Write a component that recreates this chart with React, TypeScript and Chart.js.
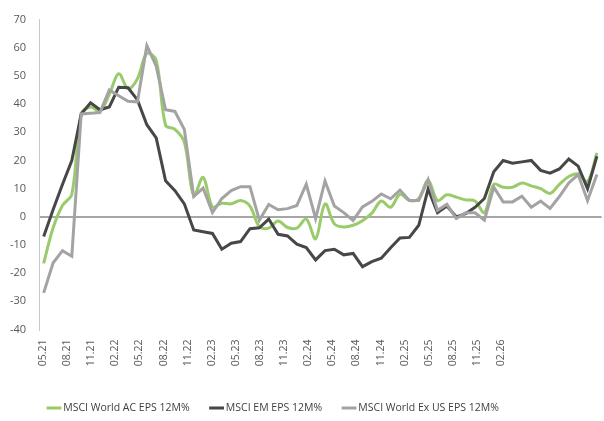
import React, { useEffect, useRef } from 'react';
import { Chart, registerables } from 'chart.js';

Chart.register(...registerables);

// Monthly observation dates of the series (hidden data axis)
const months = [
  '05.21', '06.21', '07.21', '08.21', '09.21', '10.21', '11.21', '12.21',
  '01.22', '02.22', '03.22', '04.22', '05.22', '06.22', '07.22', '08.22', '09.22', '10.22', '11.22', '12.22',
  '01.23', '02.23', '03.23', '04.23', '05.23', '06.23', '07.23', '08.23', '09.23', '10.23', '11.23', '12.23',
  '01.24', '02.24', '03.24', '04.24', '05.24', '06.24', '07.24', '08.24', '09.24', '10.24', '11.24', '12.24',
  '01.25', '02.25', '03.25', '04.25', '05.25', '06.25', '07.25', '08.25', '09.25', '10.25', '11.25', '12.25',
  '01.26', '02.26', '03.26', '04.26',
];

// Tick labels shown on the category axis
const tickLabels = [
  '05.21', '08.21', '11.21', '02.22', '05.22', '08.22', '11.22', '02.23', '05.23', '08.23',
  '11.23', '02.24', '05.24', '08.24', '11.24', '02.25', '05.25', '08.25', '11.25', '02.26',
];
const LABEL_SLOTS = 70;

const worldAC = [
  -16.5, -4, 4, 8, 36.5, 39, 37.5, 43.5, 50.8, 45.5,
  49, 58, 55.5, 32.5, 31, 26.5, 7.5, 14, 3.5, 4.8,
  4.6, 5.8, 3.8, -3.5, -4, -1.5, -3.8, -4, -0.8, -7.8,
  4.6, -2.5, -3.6, -3, -1.4, 1.3, 5.6, 3.4, 8, 5.8,
  6.5, 13, 5.8, 7.8, 7, 6, 5.6, 1.5, 11.5, 10.5,
  10.5, 12, 11, 10, 8.3, 11.5, 14.3, 15.2, 12.5, 22.7,
];

const em = [
  -7, 2.5, 11.5, 20, 36.5, 40.5, 38, 39, 46, 45.8,
  41.5, 32.7, 28, 12.8, 9.3, 4.6, -4.7, -5.3, -5.9, -11.5,
  -9.4, -8.8, -4.2, -3.9, -0.8, -6.2, -6.8, -9.7, -10.9, -15.3,
  -12, -11.5, -13.5, -13, -17.7, -15.9, -14.7, -11, -7.5, -7.3,
  -3, 9.9, 1.5, 3.8, 0, 1.1, 3.4, 6.5, 16, 20,
  19, 19.5, 20, 16.5, 15.5, 17, 20.5, 18, 10, 21.5,
];

const worldExUS = [
  -27, -16.4, -12, -14, 36.5, 36.8, 37, 45, 43, 41,
  40.8, 60.8, 53.5, 38, 37.4, 31, 7.2, 10.2, 1.5, 6.5,
  9.3, 10.7, 10.7, -1.2, 4.4, 2.5, 2.9, 4, 11.6, -0.6,
  12.7, 3.8, 1.5, -1.3, 3.5, 5.5, 8.1, 6.4, 9.5, 5.8,
  5.8, 13.2, 2.3, 4.4, -0.6, 1.4, 1.4, -1.2, 10.5, 5.3,
  5.3, 7.3, 3.4, 5.6, 3, 7.2, 12, 15, 5.8, 15,
];

const FONT = "'Open Sans', 'Noto Sans', sans-serif";
const LEGEND_SHIFT = 27;

const legendShift = {
  id: 'legendShift',
  afterLayout(chart: any) {
    const lg = chart.legend;
    if (lg) {
      lg.left += LEGEND_SHIFT;
      lg.right += LEGEND_SHIFT;
    }
  },
};

export default function App() {
  const ref = useRef<HTMLCanvasElement>(null);

  useEffect(() => {
    if (!ref.current) return;
    const slots: string[] = [];
    for (let i = 0; i < LABEL_SLOTS; i++) {
      slots.push(i % 3 === 0 && i / 3 < tickLabels.length ? tickLabels[i / 3] : '');
    }
    const chart = new Chart(ref.current, {
      type: 'line',
      data: {
        labels: months,
        datasets: [
          {
            label: 'MSCI World AC EPS 12M%',
            data: worldAC,
            borderColor: '#9acb6b',
            backgroundColor: '#9acb6b',
            borderWidth: 3,
            tension: 0.35,
            pointRadius: 0,
            pointStyle: 'line',
            xAxisID: 'x',
            order: 3,
          },
          {
            label: 'MSCI EM EPS 12M%',
            data: em,
            borderColor: '#474747',
            backgroundColor: '#474747',
            borderWidth: 3,
            tension: 0,
            pointRadius: 0,
            pointStyle: 'line',
            xAxisID: 'x',
            order: 2,
          },
          {
            label: 'MSCI World Ex US EPS 12M%',
            data: worldExUS,
            borderColor: '#a3a3a3',
            backgroundColor: '#a3a3a3',
            borderWidth: 3,
            tension: 0,
            pointRadius: 0,
            pointStyle: 'line',
            xAxisID: 'x',
            order: 1,
          },
        ],
      },
      plugins: [legendShift],
      options: {
        animation: false,
        responsive: false,
        maintainAspectRatio: false,
        layout: { padding: { left: 0, top: 19, right: 2.4, bottom: -2.25 } },
        plugins: {
          tooltip: { enabled: false },
          legend: {
            position: 'bottom',
            align: 'start',
            labels: {
              usePointStyle: true,
              boxWidth: 8,
              boxHeight: 12,
              padding: 23,
              color: '#404040',
              font: { family: FONT, size: 10.5 },
              sort: (a: any, b: any) => a.datasetIndex - b.datasetIndex,
            },
          },
        },
        scales: {
          x: {
            type: 'category',
            display: false,
            offset: true,
          },
          xl: {
            type: 'category',
            axis: 'x',
            position: 'bottom',
            labels: slots,
            offset: true,
            grid: { display: false, drawTicks: false },
            border: { display: false },
            ticks: {
              autoSkip: false,
              maxRotation: 90,
              minRotation: 90,
              padding: 10,
              color: '#595959',
              font: { family: FONT, size: 10.5 },
              callback: (_v: any, idx: number) => (slots[idx] ? slots[idx] : null),
            },
            afterFit: (s: any) => {
              s.height = 50.25;
            },
          },
          y: {
            min: -40,
            max: 70,
            ticks: {
              stepSize: 10,
              padding: 13,
              color: '#595959',
              font: { family: FONT, size: 11 },
            },
            grid: {
              drawTicks: false,
              lineWidth: 2,
              color: (ctx: any) => (ctx.tick && ctx.tick.value === 0 ? '#a6a6a6' : 'rgba(0,0,0,0)'),
            },
            border: { display: true, color: '#c8c8c8', width: 1 },
            afterFit: (s: any) => {
              s.width = 39;
            },
          },
        },
      } as any,
    });
    return () => chart.destroy();
  }, []);

  return (
    <div style={{ position: 'fixed', left: 0, top: 0, width: 604, height: 421, background: '#ffffff' }}>
      <canvas ref={ref} width={604} height={421} style={{ display: 'block', width: 604, height: 421 }} />
    </div>
  );
}
